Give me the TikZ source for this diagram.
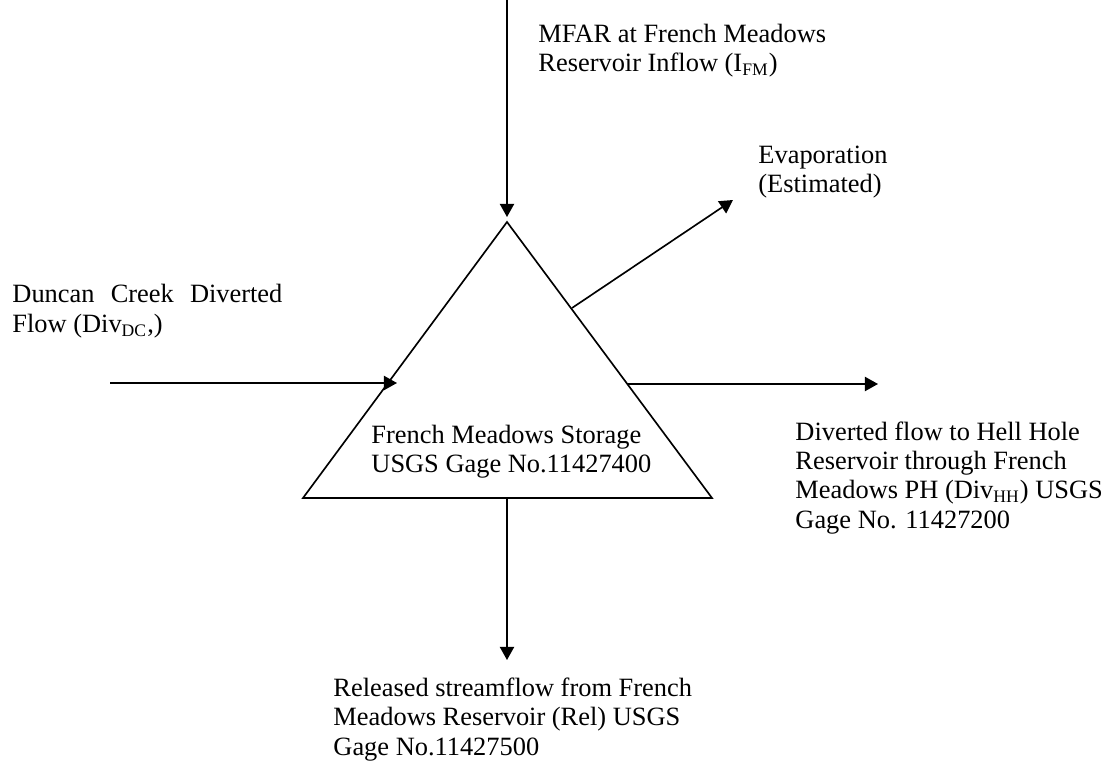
\documentclass[tikz,border=0pt]{standalone}
\usepackage{fontspec}
\setmainfont{Liberation Serif}
\usetikzlibrary{arrows.meta}

\tikzset{
	flowtext/.style = {anchor = base west, inner sep = 0pt, align = left, font = \fontsize{12pt}{13.2pt}\selectfont},
	flow/.style = {->, line width = 0.75pt}
}

\begin{document}
\begin{tikzpicture}[x = 0.4545pt, y = -0.4545pt, > = {Triangle[length = 6pt, width = 6.5pt]}]
	\useasboundingbox (0,0) rectangle (1106,765);
	% storage triangle
	\coordinate (apex) at (507,222);
	\coordinate (baseL) at (303,498);
	\coordinate (baseR) at (712,498);
	\draw [line width = 0.75pt] (apex) -- (baseL) -- (baseR) -- cycle;
	\node (storage) at (371,473) [flowtext] {French Meadows Storage\\USGS Gage No.11427400};
	% labels (placed at the baseline of their last line)
	\node (inflow) at (538,72) [flowtext] {MFAR at French Meadows\\Reservoir Inflow (I\textsubscript{FM})};
	\node (evap) at (758,193) [flowtext] {Evaporation\\(Estimated)};
	\node (duncan) at (12,303) [flowtext, text width = 122.7pt, align = justify] {Duncan Creek Diverted Flow (Div\textsubscript{DC},)};
	\node (hellhole) at (795,528) [flowtext] {Diverted flow to Hell Hole\\Reservoir through French\\Meadows PH (Div\textsubscript{HH}) USGS\\Gage No. 11427200};
	\node (release) at (333,755) [flowtext] {Released streamflow from French\\Meadows Reservoir (Rel) USGS\\Gage No.11427500};
	% flow ends
	\coordinate (topIn) at (507,0);
	\coordinate (topTip) at (507,217);
	\coordinate (leftIn) at (110,383);
	\coordinate (leftTip) at (397,383);
	\coordinate (evapOut) at (572,308);
	\coordinate (evapTip) at (733,200);
	\coordinate (divOut) at (627,384);
	\coordinate (divTip) at (878,384);
	\coordinate (relOut) at (507,498);
	\coordinate (relTip) at (507,660);
	\draw [flow] (topIn) -- (topTip);
	\draw [flow] (leftIn) -- (leftTip);
	\draw [flow] (evapOut) -- (evapTip);
	\draw [flow] (divOut) -- (divTip);
	\draw [flow] (relOut) -- (relTip);
\end{tikzpicture}
\end{document}
